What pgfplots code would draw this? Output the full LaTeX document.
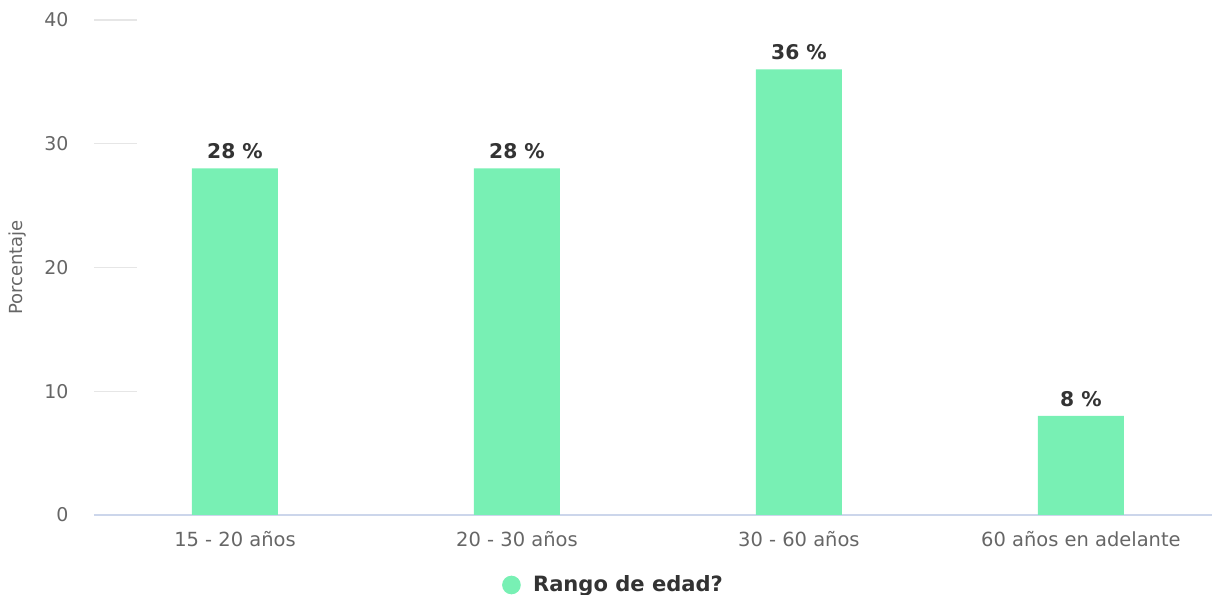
\documentclass[border=0pt]{standalone}
\usepackage{pgfplots}
\pgfplotsset{compat=1.18}
\usepackage{fontspec}
\setmainfont{DejaVu Sans}
\definecolor{barcol}{HTML}{78F0B4}
\definecolor{ticktxt}{HTML}{666666}
\definecolor{gridc}{HTML}{E6E6E6}
\definecolor{baseln}{HTML}{CCD6EB}
\definecolor{darktxt}{HTML}{333333}

\begin{document}
\begin{tikzpicture}
\path[use as bounding box] (-70.5pt,-60pt) rectangle (838.5pt,386.25pt);
\begin{axis}[
  at={(0,0)}, anchor=south west,
  scale only axis, width=838.5pt, height=371.25pt,
  ybar, bar width=64.5pt,
  xmin=-0.5, xmax=3.465, ymin=0, ymax=40,
  xtick=data, xticklabels={15 - 20 años,20 - 30 años,30 - 60 años,60 años en adelante},
  ytick={0,10,20,30,40},
  axis x line=bottom, axis y line=left,
  axis line style={-},
  x axis line style={draw=baseln, line width=1pt},
  y axis line style={draw=none},
  x tick style={draw=none},
  y tick style={draw=gridc, line width=1pt},
  tick align=inside, major tick length=32pt,
  /pgf/number format/assume math mode=true,
  tick label style={font=\fontsize{14.6}{17}\selectfont, text=ticktxt},
  xticklabel style={anchor=north, inner sep=0pt, yshift=-12pt},
  yticklabel style={anchor=east, inner sep=0pt, xshift=-19pt,
    font=\fontsize{14.2}{17}\selectfont},
  ylabel={Porcentaje},
  ylabel style={at={(axis description cs:-0.068,0.5)}, anchor=center,
    font=\fontsize{13.5}{16}\selectfont, text=ticktxt},
  nodes near coords={\pgfmathprintnumber{\pgfplotspointmeta} \%},
  every node near coord/.append style={font=\bfseries\fontsize{15.2}{17}\selectfont,
    text=darktxt, anchor=south, inner sep=0pt, yshift=6.75pt},
  legend style={draw=none, fill=none, at={(axis description cs:0.465,-0.1414)},
    anchor=center, font=\bfseries\fontsize{15.8}{18}\selectfont, text=darktxt,
    legend cell align=left, inner sep=0pt},
  legend image code/.code={\fill[barcol] (0pt,0pt) circle (7pt); \path (14.2pt,0pt);},
  clip=false,
]
\addplot[fill=barcol, draw=none] coordinates {(0,28) (1,28) (2,36) (3,8)};
\legend{Rango de edad?}
\end{axis}
\end{tikzpicture}
\end{document}
